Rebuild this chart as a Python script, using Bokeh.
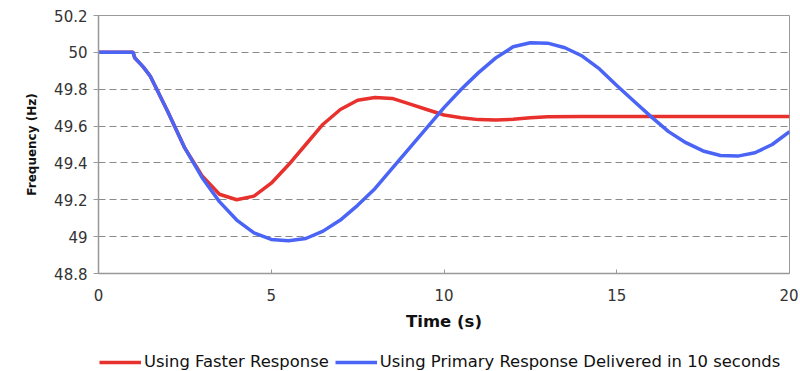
from bokeh.plotting import figure
from bokeh.models import Legend, LegendItem, FixedTicker, Range1d
from bokeh.layouts import column
from bokeh.embed import file_html
from bokeh.resources import INLINE

# Data
t_fast = [0, 1.0, 1.05, 1.1, 1.2, 1.3, 1.5, 2.0, 2.5, 3.0, 3.5, 4.0, 4.5, 5.0, 5.5, 6.0, 6.5, 7.0,
          7.5, 8.0, 8.5, 9.0, 9.5, 10.0, 10.5, 11.0, 11.5, 12.0, 12.5, 13.0, 14.0, 16.0, 18.0, 20.0]
f_fast = [50.0, 50.0, 49.97, 49.96, 49.94, 49.92, 49.87, 49.68, 49.48, 49.33, 49.23, 49.20, 49.22,
          49.29, 49.39, 49.50, 49.61, 49.69, 49.74, 49.755, 49.75, 49.72, 49.69, 49.66, 49.645,
          49.635, 49.633, 49.637, 49.645, 49.65, 49.652, 49.652, 49.652, 49.652]

t_primary = [0, 1.0, 1.05, 1.1, 1.2, 1.3, 1.5, 2.0, 2.5, 3.0, 3.5, 4.0, 4.5, 5.0, 5.5, 6.0, 6.5,
             7.0, 7.5, 8.0, 8.5, 9.0, 9.5, 10.0, 10.5, 11.0, 11.5, 12.0, 12.5, 13.0, 13.5, 14.0,
             14.5, 15.0, 15.5, 16.0, 16.5, 17.0, 17.5, 18.0, 18.5, 19.0, 19.5, 20.0]
f_primary = [50.0, 50.0, 49.97, 49.96, 49.94, 49.92, 49.87, 49.68, 49.48, 49.32, 49.19, 49.09,
             49.02, 48.985, 48.978, 48.99, 49.03, 49.09, 49.17, 49.26, 49.37, 49.48, 49.59, 49.70,
             49.80, 49.89, 49.97, 50.03, 50.052, 50.05, 50.025, 49.98, 49.91, 49.82, 49.735,
             49.65, 49.57, 49.51, 49.465, 49.44, 49.437, 49.455, 49.50, 49.57]

y_ticks = [48.8, 49.0, 49.2, 49.4, 49.6, 49.8, 50.0, 50.2]
x_ticks = [0, 5, 10, 15, 20]
series_names = ["Using Faster Response", "Using Primary Response Delivered in 10 seconds"]

FONT = "DejaVu Sans"
RED = "#e8302c"
BLUE = "#4a64f5"

p = figure(width=798, height=338, output_backend="svg", toolbar_location=None,
           x_range=Range1d(0, 20), y_range=Range1d(48.8, 50.2),
           min_border_left=98, min_border_right=9, min_border_top=15, min_border_bottom=65)

p.outline_line_color = "#999999"
p.background_fill_color = "white"
p.border_fill_color = "white"

p.line(t_fast, f_fast, line_color=RED, line_width=3.5)
p.line(t_primary, f_primary, line_color=BLUE, line_width=3.5)

p.xgrid.visible = False
p.ygrid.ticker = FixedTicker(ticks=y_ticks)
p.ygrid.grid_line_color = "#8a8a8a"
p.ygrid.grid_line_dash = "7 4"
p.ygrid.grid_line_width = 1

p.yaxis.ticker = FixedTicker(ticks=y_ticks)
p.yaxis.major_label_overrides = {v: ("%g" % v) for v in y_ticks}
p.xaxis.ticker = FixedTicker(ticks=x_ticks)

for ax in (p.xaxis[0], p.yaxis[0]):
    ax.axis_line_color = "#999999"
    ax.axis_line_width = 1.5
    ax.major_tick_line_color = "#999999"
    ax.minor_tick_line_color = None
    ax.major_label_text_font = FONT
    ax.major_label_text_font_size = "15px"
    ax.major_label_text_color = "#333333"
    ax.axis_label_text_font = FONT
    ax.axis_label_text_font_style = "bold"
    ax.axis_label_text_color = "#111111"

p.xaxis.axis_label_text_font_size = "16.5px"
p.yaxis.axis_label_text_font_size = "12px"

p.xaxis.major_tick_in = 4
p.xaxis.major_tick_out = 0
p.yaxis.major_tick_in = 0
p.yaxis.major_tick_out = 5
p.xaxis.major_label_standoff = 15
p.yaxis.major_label_standoff = 6
p.xaxis.axis_label = "Time (s)"
p.yaxis.axis_label = "Frequency (Hz)"
p.xaxis.axis_label_standoff = 8
p.yaxis.axis_label_standoff = 12

# Legend strip below the chart
lg = figure(width=798, height=33, output_backend="svg", toolbar_location=None,
            x_range=Range1d(0, 1), y_range=Range1d(0, 1),
            x_axis_type=None, y_axis_type=None,
            min_border_left=0, min_border_right=0, min_border_top=0, min_border_bottom=0)
lg.outline_line_color = None
lg.xgrid.visible = False
lg.ygrid.visible = False
# same series (outside this strip's ranges), only used as legend entries
l_fast = lg.line(t_fast, f_fast, line_color=RED, line_width=3.5)
l_prim = lg.line(t_primary, f_primary, line_color=BLUE, line_width=3.5)

legend = Legend(items=[LegendItem(label=series_names[0], renderers=[l_fast]),
                       LegendItem(label=series_names[1], renderers=[l_prim])],
                orientation="horizontal", location=(1, 0),
                glyph_width=42, glyph_height=18, label_standoff=3, spacing=6, padding=0, margin=0,
                border_line_color=None, background_fill_alpha=0,
                label_text_font=FONT, label_text_font_size="16.4px", label_text_color="#111111")
lg.add_layout(legend, "center")

layout = column(p, lg, spacing=0)
open("out.html", "w").write(file_html(layout, INLINE))
